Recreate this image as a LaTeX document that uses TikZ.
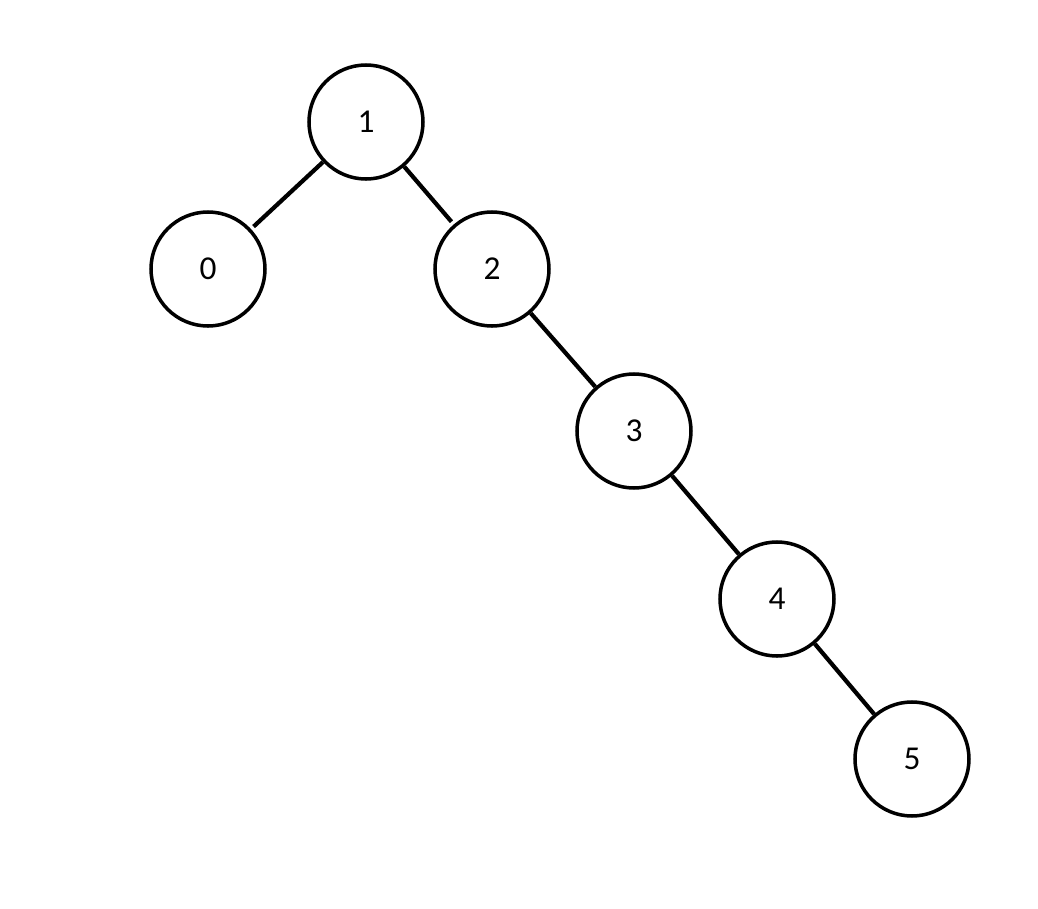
\documentclass[tikz,border=0pt]{standalone}
\usepackage{fontspec}
\setmainfont{Carlito}
\begin{document}
\begin{tikzpicture}[
  nd/.style={circle,draw,line width=1pt,minimum size=1.14cm,inner sep=0pt,font=\fontsize{9.5pt}{11pt}\selectfont},
  ed/.style={line width=1.2pt}]
\useasboundingbox (0,0) rectangle (10.38,9.08);
\node[nd] (n1) at (3.66,7.86) {1};
\node[nd] (n0) at (2.08,6.39) {0};
\node[nd] (n2) at (4.92,6.39) {2};
\node[nd] (n3) at (6.34,4.77) {3};
\node[nd] (n4) at (7.77,3.09) {4};
\node[nd] (n5) at (9.12,1.49) {5};
\draw[ed,shorten >=1pt] (n1) -- (n0);
\draw[ed,shorten >=1pt] (n1) -- (n2);
\draw[ed] (n2) -- (n3);
\draw[ed] (n3) -- (n4);
\draw[ed] (n4) -- (n5);
\end{tikzpicture}
\end{document}
